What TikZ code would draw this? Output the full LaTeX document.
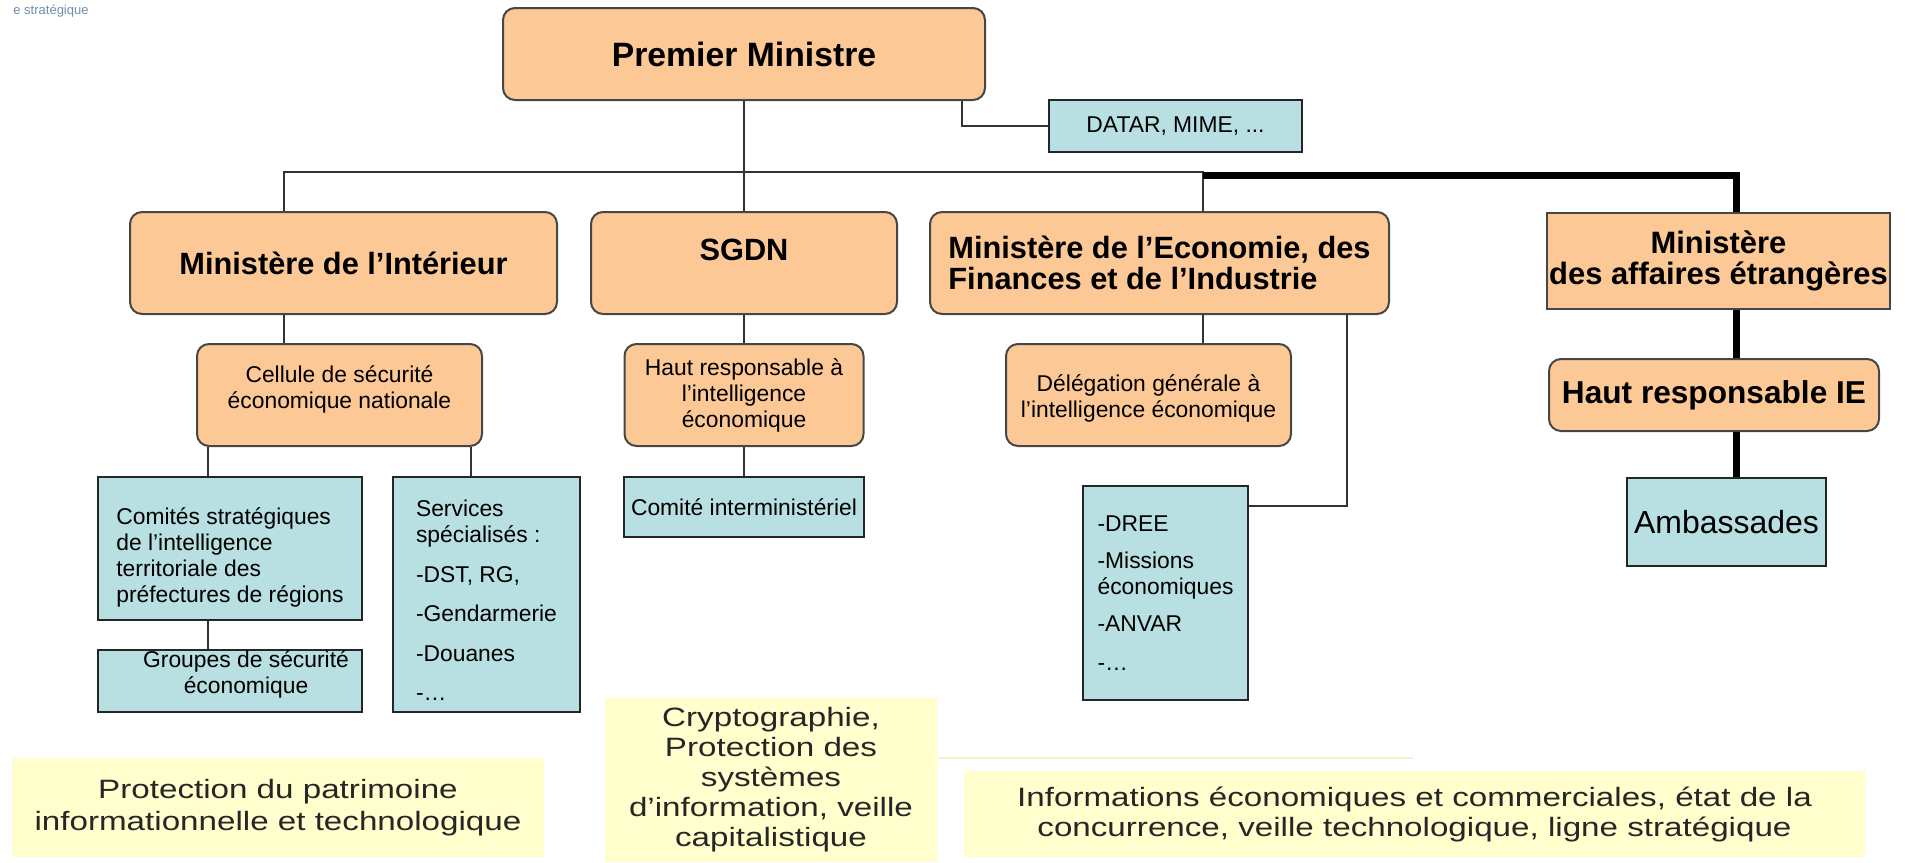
\documentclass[tikz,border=0pt]{standalone}
\usepackage{fontspec}
\setmainfont{Liberation Sans}
\newfontfamily\widesans[FakeStretch=1.25]{Liberation Sans}
\usepackage{tikz}
\definecolor{peach}{RGB}{252,201,150}
\definecolor{paleblue}{RGB}{184,223,225}
\definecolor{paleyellow}{RGB}{255,254,204}
\definecolor{faintyellow}{RGB}{246,242,204}
\definecolor{edgegrey}{RGB}{70,70,70}
\definecolor{tagblue}{RGB}{110,140,175}
\tikzset{
  orangebox/.style={rounded corners=0.12cm, fill=peach, draw=edgegrey, line width=0.02cm, inner sep=0pt, align=center},
  squarebox/.style={fill=peach, draw=edgegrey, line width=0.02cm, inner sep=0pt, align=center},
  bluebox/.style={fill=paleblue, draw=black!85, line width=0.02cm, inner sep=0pt, align=center},
  yellowbox/.style={fill=paleyellow, inner sep=0pt, align=center, text=black!85, font=\widesans\fontsize{7.55}{8.55}\selectfont},
  boldtext/.style={font=\fontsize{8.75}{9.0}\selectfont\bfseries},
  smalltext/.style={font=\fontsize{6.5}{7.4}\selectfont},
  boxtext/.style={smalltext, inner sep=0pt},
  tagtext/.style={font=\fontsize{3.7}{4}\selectfont, text=tagblue, inner sep=0pt},
  link/.style={line width=0.018cm, draw=black!80},
  thicklink/.style={line width=0.07cm, draw=black},
  faintline/.style={line width=0.02cm, draw=faintyellow},
}
\begin{document}
\begin{tikzpicture}
\useasboundingbox (0,0) rectangle (19.05,8.62);
\node[tagtext] (tag) at (0.51,8.51) {e stratégique};
\node[orangebox, minimum width=4.82cm, minimum height=0.92cm, font=\fontsize{9.6}{11}\selectfont\bfseries] (pm) at (7.44,8.08) {Premier Ministre};
\node[bluebox, smalltext, minimum width=2.53cm, minimum height=0.52cm] (datar) at (11.755,7.36) {DATAR, MIME, ...};
\node[orangebox, boldtext, minimum width=4.27cm, minimum height=1.02cm] (int) at (3.435,5.99) {Ministère de l’Intérieur};
\node[orangebox, boldtext, minimum width=3.06cm, minimum height=1.02cm] (sgdn) at (7.44,5.99) {\raisebox{0.26cm}{SGDN}};
\node[orangebox, boldtext, align=left, minimum width=4.59cm, minimum height=1.02cm] (eco) at (11.595,5.99) {Ministère de l’Economie, des\\Finances et de l’Industrie};
\node[squarebox, boldtext, font=\fontsize{8.8}{9.0}\selectfont\bfseries, minimum width=3.43cm, minimum height=0.96cm] (aff) at (17.185,6.01) {Ministère\\des affaires étrangères};
\node[orangebox, minimum width=2.85cm, minimum height=1.02cm] (cel) at (3.395,4.67) {};
\node[boxtext, align=center] (celtext) at (3.395,4.725) {Cellule de sécurité\\économique nationale};
\node[orangebox, smalltext, minimum width=2.39cm, minimum height=1.02cm] (hrs) at (7.44,4.67) {Haut responsable à\\l’intelligence\\économique};
\node[orangebox, minimum width=2.85cm, minimum height=1.02cm] (dge) at (11.485,4.67) {};
\node[boxtext, align=center] (dgetext) at (11.485,4.635) {Délégation générale à\\l’intelligence économique};
\node[orangebox, font=\fontsize{9}{10}\selectfont\bfseries, minimum width=3.30cm, minimum height=0.72cm] (hrie) at (17.14,4.67) {Haut responsable IE};
\node[bluebox, minimum width=2.64cm, minimum height=1.43cm] (com) at (2.30,3.135) {};
\node[boxtext, align=left] (comtext) at (2.30,3.05) {Comités stratégiques\\de l’intelligence\\territoriale des\\préfectures de régions};
\node[bluebox, minimum width=1.87cm, minimum height=2.35cm] (svc) at (4.865,2.675) {};
\node[boxtext, align=left] (svctext) at (4.865,2.615) {Services\\spécialisés :\\[0.135cm]-DST, RG,\\[0.135cm]-Gendarmerie\\[0.135cm]-Douanes\\[0.135cm]-…};
\node[bluebox, smalltext, minimum width=2.40cm, minimum height=0.60cm] (ci) at (7.44,3.55) {Comité interministériel};
\node[bluebox, minimum width=2.64cm, minimum height=0.62cm] (grp) at (2.30,1.81) {};
\node[boxtext, align=center] (grptext) at (2.46,1.88) {Groupes de sécurité\\économique};
\node[bluebox, smalltext, align=left, minimum width=1.65cm, minimum height=2.14cm] (dree) at (11.655,2.69) {-DREE\\[0.11cm]-Missions\\économiques\\[0.11cm]-ANVAR\\[0.13cm]-…};
\node[bluebox, font=\fontsize{9.1}{10}\selectfont, minimum width=1.99cm, minimum height=0.88cm] (amb) at (17.265,3.40) {Ambassades};
\node[yellowbox, font=\widesans\fontsize{7.55}{9.1}\selectfont, minimum width=5.32cm, minimum height=0.99cm] (pat) at (2.78,0.545) {Protection du patrimoine\\informationnelle et technologique};
\node[yellowbox, minimum width=3.32cm, minimum height=1.64cm] (cry) at (7.71,0.82) {Cryptographie,\\Protection des\\systèmes\\d’information, veille\\capitalistique};
\node[yellowbox, minimum width=9.01cm, minimum height=0.86cm] (inf) at (14.145,0.48) {Informations économiques et commerciales, état de la\\concurrence, veille technologique, ligne stratégique};
\draw[faintline] (9.38,1.04) -- (14.13,1.04);
\coordinate (intX) at (2.84,6.90);
\coordinate (ecoX) at (12.03,6.90);
\coordinate (affX) at (17.36,6.87);
\coordinate (comX) at (2.08,0);
\coordinate (svcX) at (4.71,0);
\coordinate (pmX) at (9.62,0);
\coordinate (dreeX) at (13.47,3.56);
\draw[link] (pm.south) -- (sgdn.north);
\draw[link] (pm.south -| pmX) |- (datar.west);
\draw[link] (int.north -| intX) -- (intX) -- (ecoX) -- (eco.north -| ecoX);
\draw[thicklink] (ecoX |- affX) -- (affX) -- (aff.north -| affX);
\draw[thicklink] (aff.south -| affX) -- (hrie.north -| affX);
\draw[thicklink] (hrie.south -| affX) -- (amb.north -| affX);
\draw[link] (int.south -| intX) -- (cel.north -| intX);
\draw[link] (cel.south -| comX) -- (com.north -| comX);
\draw[link] (com.south -| comX) -- (grp.north -| comX);
\draw[link] (cel.south -| svcX) -- (svc.north -| svcX);
\draw[link] (sgdn.south) -- (hrs.north);
\draw[link] (hrs.south) -- (ci.north);
\draw[link] (eco.south -| ecoX) -- (dge.north -| ecoX);
\draw[link] (eco.south -| dreeX) -- (dreeX) -- (dreeX -| dree.east);
\end{tikzpicture}
\end{document}
